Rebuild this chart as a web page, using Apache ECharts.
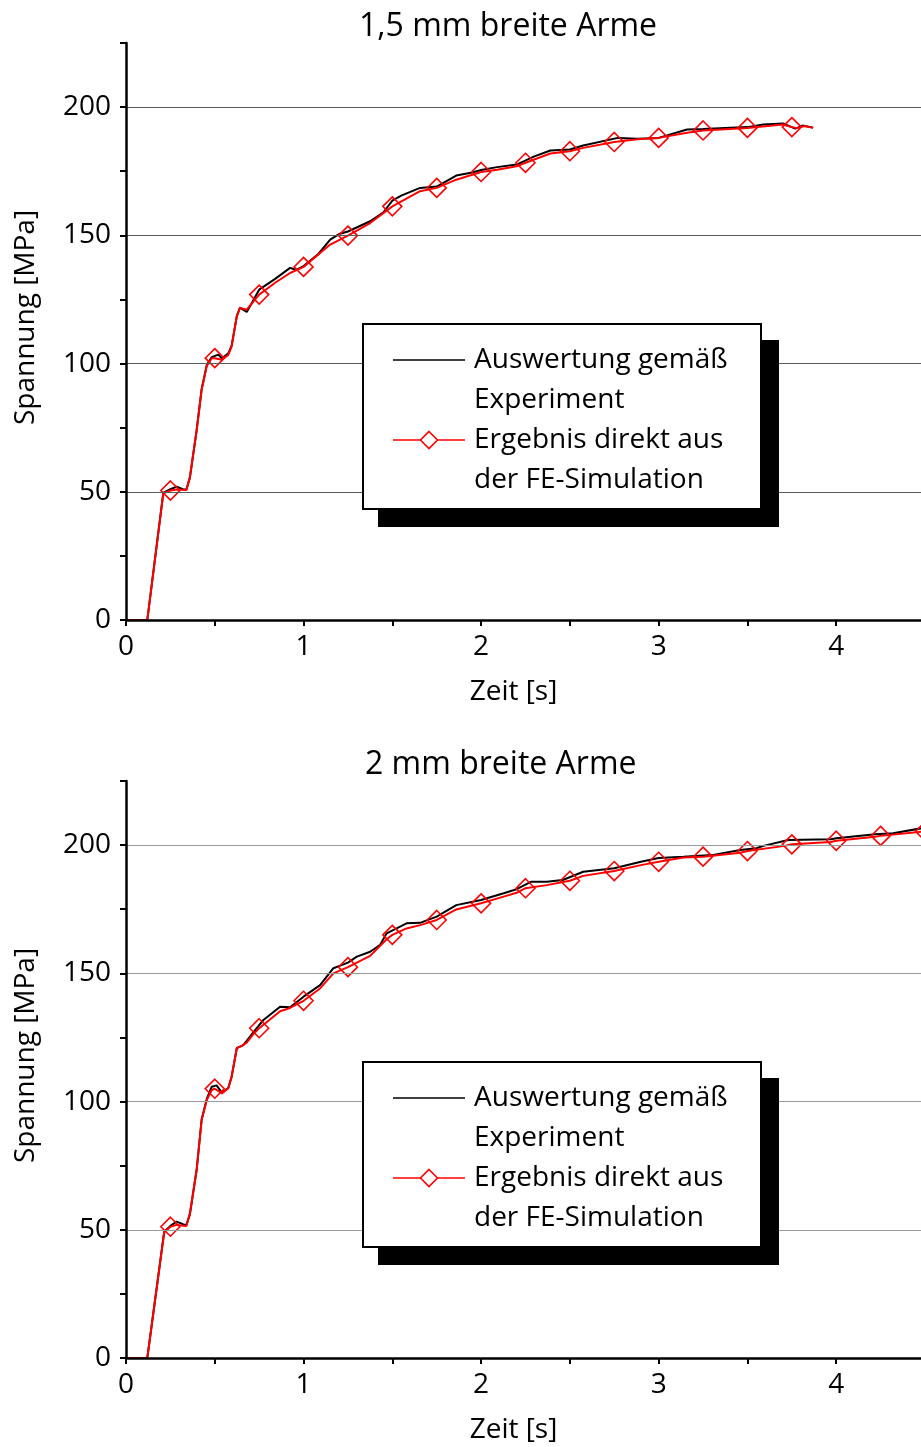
<!DOCTYPE html>
<html><head><meta charset="utf-8">
<script src="https://cdn.jsdelivr.net/npm/echarts@6/dist/echarts.min.js"></script>
<style>html,body{margin:0;padding:0;background:#fff}#c{width:921px;height:1447px}</style>
</head><body><div id="c"></div>
<script>
// ---------- data ----------
const titles = ['1,5 mm breite Arme', '2 mm breite Arme'];
const seriesNames = ['Auswertung gemäß\nExperiment', 'Ergebnis direkt aus\nder FE-Simulation'];
const xAxisName = 'Zeit [s]';
const yAxisName = 'Spannung [MPa]';
const xLabels = [0, 1, 2, 3, 4];
const yLabels = [0, 50, 100, 150, 200];
const gridValues = [50, 100, 150, 200];
const markerStep = 0.25;

// top panel: 1,5 mm
const expTop = [[0,0],[0.12,0],[0.21,49.6],[0.25,51],[0.285,52],[0.32,51],[0.34,50.8],[0.36,55.5],[0.398,74],[0.426,90],[0.455,99.5],[0.483,102.5],[0.52,103.5],[0.54,102],[0.576,104],[0.595,107],[0.624,118.5],[0.642,121.8],[0.68,120.1],[0.7,122.5],[0.75,128.8],[0.84,133],[0.924,137.3],[0.96,136.5],[1.0,138],[1.08,142.5],[1.15,148.3],[1.2,150.5],[1.25,151.5],[1.375,155.5],[1.45,159],[1.5,163.5],[1.55,165.5],[1.656,168.5],[1.75,169],[1.86,173.3],[1.95,174.5],[2.0,175.5],[2.09,176.6],[2.2,177.6],[2.3,180.8],[2.39,183.1],[2.5,183.5],[2.575,185],[2.77,188],[2.88,187.7],[3.0,188],[3.16,191.3],[3.25,191.5],[3.5,192.2],[3.59,193.2],[3.7,193.6],[3.77,191.6],[3.81,192.8],[3.87,192]];
const feTop = [[0,0],[0.12,0],[0.21,49.4],[0.25,50.5],[0.285,50.9],[0.34,50.7],[0.36,55.9],[0.398,74],[0.426,89.8],[0.455,99.1],[0.483,102.1],[0.5,102.1],[0.54,101.5],[0.576,103.4],[0.595,106.7],[0.624,118.4],[0.642,121.7],[0.68,121],[0.75,126.9],[0.84,131.5],[0.924,135.3],[1.0,137.7],[1.15,146.4],[1.25,149.9],[1.375,154.8],[1.5,161.3],[1.656,167.2],[1.75,168.5],[1.86,171.7],[2.0,174.7],[2.09,175.6],[2.2,176.9],[2.25,178.3],[2.39,181.9],[2.5,182.8],[2.575,184.1],[2.75,186.4],[2.88,187.5],[3.0,188],[3.16,190],[3.25,190.9],[3.5,191.9],[3.7,193.2],[3.75,192.2],[3.78,191.8],[3.82,192.6],[3.87,191.9]];

// bottom panel: 2 mm
const expBottom = [[0,0],[0.12,0],[0.215,49.2],[0.25,51.5],[0.285,53.2],[0.32,52.2],[0.34,51.8],[0.36,56],[0.398,73.5],[0.426,93],[0.455,101],[0.483,105.8],[0.51,106.3],[0.54,103.5],[0.576,105.3],[0.595,109.7],[0.624,120.8],[0.661,122],[0.717,127],[0.774,131.8],[0.868,137],[0.924,136.8],[1.0,140.9],[1.093,145.4],[1.168,152],[1.25,154.2],[1.3,156.5],[1.375,158.4],[1.43,161],[1.468,165.6],[1.58,169.5],[1.656,169.7],[1.75,172.1],[1.86,176.6],[2.0,178.6],[2.127,181.2],[2.2,182.8],[2.28,185.7],[2.37,185.7],[2.46,186.4],[2.575,189.6],[2.75,191],[2.9,193.5],[3.0,195],[3.14,195.5],[3.3,196.1],[3.46,198.1],[3.55,198.8],[3.59,199.7],[3.73,202],[3.97,202.3],[4.0,202.7],[4.22,204.2],[4.32,204.6],[4.5,206.8]];
const feBottom = [[0,0],[0.12,0],[0.215,49],[0.25,51.2],[0.285,51.9],[0.34,51.5],[0.36,56.5],[0.398,73.3],[0.426,92.8],[0.455,100.6],[0.483,104.5],[0.5,105],[0.54,103.2],[0.576,105.2],[0.595,109.7],[0.624,120.8],[0.652,121.7],[0.68,123],[0.717,126.3],[0.75,128.6],[0.868,135.2],[0.924,136.5],[1.0,139.3],[1.093,144.1],[1.168,150],[1.25,152.4],[1.375,156.8],[1.468,163.3],[1.5,165],[1.58,167.5],[1.656,168.8],[1.75,170.8],[1.86,174.9],[2.0,177.3],[2.127,179.9],[2.2,181.4],[2.25,183.2],[2.37,184.4],[2.5,186.1],[2.575,188],[2.75,189.9],[2.9,192.2],[3.0,193.5],[3.14,195.2],[3.25,195.5],[3.46,197],[3.5,197.7],[3.71,199.7],[3.75,200.3],[3.97,201.2],[4.0,201.7],[4.22,203.3],[4.25,203.6],[4.5,205.4]];

const panels = [
  {title: titles[0], exp: expTop, fe: feTop},
  {title: titles[1], exp: expBottom, fe: feBottom}
];

// ---------- layout / style ----------
const FONT = '"Open Sans", "Noto Sans", sans-serif';
const PANEL_DY = 738;
const GRID_TOP = 43, GRID_H = 577, GRID_LEFT = 126, GRID_W = 799;
const gridLineColors = ['#5a5a5a', '#9a9a9a'];
const titleLefts = [359, 365];

function isMarker(t) {
  const k = t / markerStep;
  return t > 0 && Math.abs(k - Math.round(k)) < 1e-9;
}

const chart = echarts.init(document.getElementById('c'), null, {renderer: 'canvas'});

const grid = [], xAxis = [], yAxis = [], series = [], title = [], graphic = [];
panels.forEach((p, i) => {
  const dy = i * PANEL_DY;
  title.push({
    text: p.title, left: titleLefts[i], top: 11 + dy, padding: 0,
    textStyle: {fontFamily: FONT, fontSize: 32, fontWeight: 'normal', color: '#000'}
  });
  grid.push({left: GRID_LEFT, width: GRID_W, top: GRID_TOP + dy, height: GRID_H,
    outerBoundsMode: 'none', containLabel: false});
  xAxis.push({
    type: 'value', gridIndex: i, min: 0, max: 4.5, interval: 0.5, z: 10,
    name: xAxisName, nameLocation: 'middle', nameGap: 58,
    nameTextStyle: {fontFamily: FONT, fontSize: 28, color: '#000', padding: [0, 24, 0, 0]},
    axisLine: {show: true, onZero: false, lineStyle: {color: '#000', width: 2.5}},
    axisTick: {show: true, length: 6, lineStyle: {color: '#000', width: 2}},
    axisLabel: {margin: 13, fontFamily: FONT, fontSize: 28, color: '#000',
      formatter: v => xLabels.includes(v) ? String(v) : ''},
    splitLine: {show: false}
  });
  yAxis.push({
    type: 'value', gridIndex: i, min: 0, max: 225, interval: 25, z: 10,
    name: yAxisName, nameLocation: 'middle', nameGap: 86,
    nameTextStyle: {fontFamily: FONT, fontSize: 28, color: '#000', padding: [0, 0, 0, 28]},
    axisLine: {show: true, lineStyle: {color: '#000', width: 2.5}},
    axisTick: {show: true, length: 6, lineStyle: {color: '#000', width: 2}},
    axisLabel: {margin: 15, fontFamily: FONT, fontSize: 28, color: '#000',
      formatter: v => yLabels.includes(v) ? String(v) : ''},
    splitLine: {show: false}
  });
  series.push({
    name: seriesNames[0], type: 'line', xAxisIndex: i, yAxisIndex: i,
    data: p.exp, showSymbol: false, symbol: 'none', z: 2,
    lineStyle: {color: '#000', width: 2},
    markLine: {
      silent: true, symbol: ['none', 'none'], label: {show: false},
      lineStyle: {color: gridLineColors[i], width: 1.2, type: 'solid'},
      emphasis: {disabled: true},
      data: gridValues.map(v => ({yAxis: v}))
    }
  });
  series.push({
    name: seriesNames[1], type: 'line', xAxisIndex: i, yAxisIndex: i,
    data: p.fe, symbol: 'diamond', showSymbol: true, showAllSymbol: true, z: 3,
    symbolSize: v => isMarker(v[0]) ? 19 : 0,
    itemStyle: {color: 'rgba(255,255,255,0)', borderColor: '#ff0000', borderWidth: 1.6},
    lineStyle: {color: '#ff0000', width: 2}
  });

  // legend box with hard shadow
  const bx = 363, by = 324 + dy, bw = 398, bh = 185;
  graphic.push({type: 'rect', z: 100, shape: {x: bx + 15, y: by + 16, width: bw + 3, height: bh + 2}, style: {fill: '#000'}});
  graphic.push({type: 'rect', z: 101, shape: {x: bx, y: by, width: bw, height: bh}, style: {fill: '#fff', stroke: '#000', lineWidth: 2}});
  graphic.push({type: 'line', z: 102, shape: {x1: bx + 30, y1: by + 36, x2: bx + 102, y2: by + 36}, style: {stroke: '#000', lineWidth: 1.6}});
  graphic.push({type: 'line', z: 102, shape: {x1: bx + 30, y1: by + 116, x2: bx + 102, y2: by + 116}, style: {stroke: '#ff0000', lineWidth: 1.6}});
  const cx = bx + 66, cy = by + 116, r = 8.5;
  graphic.push({type: 'polygon', z: 103, shape: {points: [[cx, cy - r], [cx + r, cy], [cx, cy + r], [cx - r, cy]]}, style: {fill: '#fff', stroke: '#ff0000', lineWidth: 1.6}});
  seriesNames.forEach((n, k) => {
    graphic.push({type: 'text', z: 103, x: bx + 111, y: by + 16 + k * 80,
      style: {text: n, fontFamily: FONT, fontSize: 28, lineHeight: 40, fill: '#000', verticalAlign: 'top', align: 'left'}});
  });
});

chart.setOption({
  animation: false,
  backgroundColor: '#fff',
  title, grid, xAxis, yAxis, series, graphic
});
</script>
</body></html>
